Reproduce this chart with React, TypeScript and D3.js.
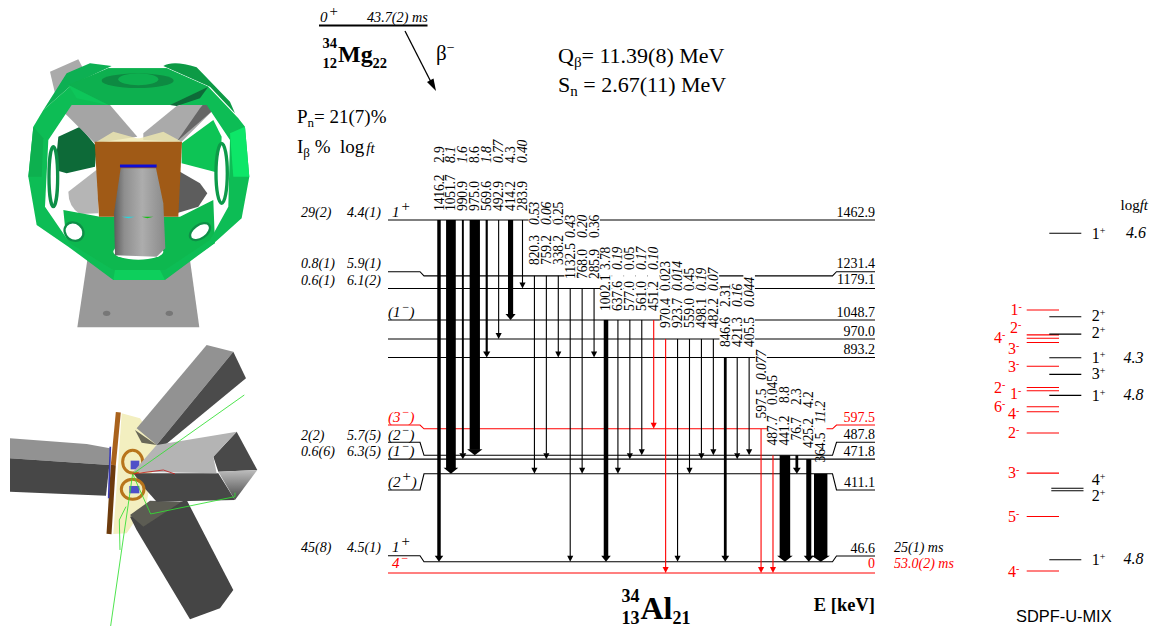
import React from "react";
import * as d3 from "d3";

// ---------- Data ----------
const levelEnergies = [1462.9, 1231.4, 1179.1, 1048.7, 970.0, 893.2, 597.5, 487.8, 471.8, 411.1, 46.6, 0];
const levelText = ["1462.9", "1231.4", "1179.1", "1048.7", "970.0", "893.2", "597.5", "487.8", "471.8", "411.1", "46.6", "0"];
const levelRed = [597.5, 0];

const gammaEnergy = ["1416.2","1051.7","990.9","975.0","569.6","492.9","414.2","283.9","820.3","759.2","338.2","1132.5","768.0","285.9","1002.1","637.6","577.0","561.0","451.2","970.4","923.7","559.0","498.1","482.2","846.6","421.3","405.5","597.5","487.7","441.2","76.7","425.2","364.5"];
const gammaIntensity = ["2.9","8.1","1.6","8.6","1.8","0.77","4.3","0.40","0.53","0.06","0.25","0.43","0.20","0.36","3.78","0.19","0.05","0.17","0.10","0.023","0.014","0.45","0.19","0.07","2.31","0.16","0.044","0.077","0.045","8.8","2.3","4.2","11.2"];
const intensityItalic = [0,1,1,0,1,1,0,1,1,1,0,1,1,0,0,1,0,1,1,0,1,0,1,1,0,1,1,1,0,0,0,0,1];
const gammaFrom = [1462.9,1462.9,1462.9,1462.9,1462.9,1462.9,1462.9,1462.9,1231.4,1231.4,1231.4,1179.1,1179.1,1179.1,1048.7,1048.7,1048.7,1048.7,1048.7,970.0,970.0,970.0,970.0,970.0,893.2,893.2,893.2,597.5,487.8,487.8,487.8,471.8,411.1];
const gammaTo = [46.6,411.1,471.8,487.8,893.2,970.0,1048.7,1179.1,411.1,471.8,893.2,46.6,411.1,893.2,46.6,411.1,471.8,487.8,597.5,0,46.6,411.1,471.8,487.8,46.6,471.8,487.8,0,0,46.6,411.1,46.6,46.6];
const gammaRed = ["451.2", "970.4", "597.5", "487.7"];

const betaRows = [
  { feed: "29(2)", logft: "4.4(1)", base: 217 },
  { feed: "0.8(1)", logft: "5.9(1)", base: 268 },
  { feed: "0.6(1)", logft: "6.1(2)", base: 285 },
  { feed: "2(2)", logft: "5.7(5)", base: 440 },
  { feed: "0.6(6)", logft: "6.3(5)", base: 455.5 },
  { feed: "45(8)", logft: "4.5(1)", base: 552 },
];

const shellBlackE = [1408, 1062, 990, 892, 823, 736, 351, 341, 55];
const shellBlackJ = ["1", "2", "2", "1", "3", "1", "4", "2", "1"];
const shellBlackLogft = ["4.6", "", "", "4.3", "", "4.8", "", "", "4.8"];
const shellRedE = [1090, 987, 973, 955, 857, 769, 755, 689, 668, 580, 414, 234, 8];
const shellRedJ = ["1", "2", "4", "3", "3", "2", "1", "6", "4", "2", "3", "5", "4"];

// ---------- Layout (pixels) ----------
const yE = d3.scaleLinear().domain([0, 1462.9]).range([573, 220]);
const xSlot = d3.scalePoint<number>().domain(d3.range(gammaEnergy.length)).range([439, 820.7]);
const wI = d3.scaleLinear().domain([0, 11.2]).range([0, 13.4]);
const labelStart = [211,211,211,211,211,211,211,211,265,265,265,279,279,279,311,311,311,311,311,328,328,328,328,328,347,347,347,418.5,445.5,445.5,440.5,448,462.5];
const intensityStart = [163,163,163,163,163,163,163,163,225,225,225,238,238,238,270,270,270,270,270,291,291,291,291,291,307,307,307,380,405,403,405,408,423];
const maskEnd = labelStart.map((v) => Math.min(v, 452));
const leftStub: Record<string, number> = { "1231.4": 271.7, "597.5": 425, "487.8": 442.3, "411.1": 490, "46.6": 555.7 };
const rightStub: Record<string, number> = { "1231.4": 271.7, "597.5": 425, "487.8": 442.3, "411.1": 490, "46.6": 556 };
const levelLabelBase: Record<string, number> = { "1462.9": 217, "1231.4": 268, "1179.1": 284, "1048.7": 317, "970": 336, "893.2": 354, "597.5": 422, "487.8": 439, "471.8": 455.7, "411.1": 487, "46.6": 552.7, "0": 568 };

const shellRedLabelX = [1010.5, 1010, 994, 1008, 1008, 994, 1010, 994, 1008, 1008, 1008, 1008, 1008];
const shellRedLabelBase = [315, 332.7, 343, 354, 371.7, 393, 399.3, 412, 419.3, 438, 478.3, 521.7, 576.7];
const shellBlackLabelBase = [239.3, 320.7, 338, 363.3, 379.3, 400.7, 485, 501, 565];
const shellLogftBase = [238, 0, 0, 362.7, 0, 400, 0, 0, 564];
const shellLogftX = [1126, 0, 0, 1123.5, 0, 1123.5, 0, 0, 1123.5];

const SERIF = "'Liberation Serif', serif";
const RED = "#f00";

const Lvl = ({ e }: { e: number }) => {
  const y = yE(e);
  const k = String(e);
  const c = levelRed.includes(e) ? RED : "#000";
  const pts: [number, number][] = [];
  if (leftStub[k] !== undefined) pts.push([388, leftStub[k]], [420, leftStub[k]], [424, y]);
  else pts.push([388, y]);
  if (rightStub[k] !== undefined) pts.push([832.5, y], [836.5, rightStub[k]], [875, rightStub[k]]);
  else pts.push([875, y]);
  return <path d={d3.line()(pts) as string} fill="none" stroke={c} strokeWidth={1.1} />;
};

const Gamma = ({ i }: { i: number }) => {
  const x = xSlot(i) as number;
  const w = Math.max(1.1, wI(parseFloat(gammaIntensity[i])));
  const y0 = yE(gammaFrom[i]);
  const y1 = yE(gammaTo[i]);
  const c = gammaRed.includes(gammaEnergy[i]) ? RED : "#000";
  const hw = w + 5;
  const hh = 6;
  return (
    <g fill={c} stroke="none">
      <rect x={x - w / 2} y={y0} width={w} height={y1 - y0 - hh + 0.5} />
      <path d={`M${x - hw / 2},${y1 - hh}L${x + hw / 2},${y1 - hh}L${x},${y1}Z`} />
    </g>
  );
};

const GammaMask = ({ i }: { i: number }) => {
  const x = xSlot(i) as number;
  const top = intensityStart[i] - gammaIntensity[i].length * 6.3 - 1;
  return <rect x={x - 5.8} y={top} width={11.6} height={maskEnd[i] - top} fill="#fff" />;
};

const GammaLabel = ({ i }: { i: number }) => {
  const x = xSlot(i) as number;
  return (
    <g fontFamily={SERIF} fontSize={13.6} letterSpacing={-0.15} fill="#000">
      <text transform={`translate(${x},${labelStart[i]}) rotate(-90)`} dy="0.33em">{gammaEnergy[i]}</text>
      <text transform={`translate(${x},${intensityStart[i]}) rotate(-90)`} dy="0.33em" fontStyle={intensityItalic[i] ? "italic" : "normal"}>{gammaIntensity[i]}</text>
    </g>
  );
};

const Spin = ({ x, y, j, sign, paren, fill = "#000" }: { x: number; y: number; j: string; sign: string; paren?: boolean; fill?: string }) => (
  <text x={x} y={y} fontFamily={SERIF} fontStyle="italic" fontSize={15} fill={fill}>
    {paren ? "(" : ""}{j}
    <tspan dy={-6} fontSize={sign === "+" ? 15 : 12} dx={1}>{sign === "-" ? "\u2212" : "+"}</tspan>
    <tspan dy={6}>{paren ? ")" : ""}</tspan>
  </text>
);

const Nuclide = ({ a, z, sym, n, x, sizes, ys }: { a: string; z: string; sym: string; n: string; x: number; sizes: number[]; ys: number[] }) => (
  <g fontFamily={SERIF} fontWeight="bold" fill="#000">
    <text x={x} y={ys[0]} fontSize={sizes[0]}>{a}</text>
    <text x={x} y={ys[1]} fontSize={sizes[0]}>{z}</text>
    <text x={x + sizes[0] + 1} y={ys[2]} fontSize={sizes[1]}>{sym}</text>
    <text x={x + sizes[0] + sizes[1] * sizes[2] + 1} y={ys[1]} fontSize={sizes[0]}>{n}</text>
  </g>
);

// ---------- Detector illustrations (pixel outlines of the two renderings) ----------
const P = ({ d, f, o, s, sw }: { d: string; f: string; o?: number; s?: string; sw?: number }) => (
  <path d={d} fill={f} fillOpacity={o} stroke={s ?? "none"} strokeWidth={sw} />
);

const TopRender = () => (
  <g transform="translate(0,30) scale(0.3333)" filter="url(#soft)">
    <P d="M262,690L570,690L598,892L232,892Z" f="#999" />
    <ellipse cx={320} cy={850} rx={11} ry={8} fill="#777" />
    <ellipse cx={508} cy={850} rx={11} ry={8} fill="#777" />
    <P d="M150,125L235,88L262,140L165,190Z" f="#aaa" />
    <P d="M490,108Q520,90 590,112L690,215L705,250L630,170Z" f="#0a9a45" />
    <P d="M130,240L200,130L270,100L335,108L215,165Z" f="#0ab052" />
    {/* interior */}
    <P d="M140,300L220,200L620,200L690,300L690,530L620,660L500,730L340,730L210,650L140,530Z" f="#fff" />
    <P d="M175,320L240,290L290,350L285,410L200,430L165,420Z" f="#0a6a38" />
    <P d="M545,340L640,270L665,320L660,430L545,400Z" f="#0cc454" />
    <P d="M225,200L330,225L412,320L285,340L190,245Z" f="#a5a5a5" />
    <P d="M430,310L530,228L625,205L640,240L545,335L430,330Z" f="#aaa" />
    <P d="M530,335L640,240L625,205L600,235Z" f="#666" />
    <P d="M205,485L292,418L295,550L240,552Q205,530 205,485Z" f="#b5b5b5" />
    <P d="M540,425L600,460L622,490L595,530L530,550Z" f="#5d5d5d" />
    <P d="M190,540L300,560L540,560L640,510L645,640L500,735L340,735L200,640Z" f="#0bb84f" />
    <ellipse cx={415} cy={665} rx={75} ry={24} fill="#fff" />
    <ellipse cx={222} cy={605} rx={30} ry={26} fill="#fff" stroke="#0a8f46" strokeWidth={7} transform="rotate(40 222 605)" />
    <ellipse cx={600} cy={605} rx={34} ry={20} fill="#fff" stroke="#0a8f46" strokeWidth={7} transform="rotate(-35 600 605)" />
    {/* main frame */}
    <path fillRule="evenodd" fill="#0bbd54" d="M85,440L100,290L130,240L215,165L325,115L500,115L625,170L715,265L735,290L748,440L725,565L630,650L495,750L340,750L205,650L110,585ZM145,330L135,530L210,640L340,720L495,720L630,630L685,530L690,330L620,225L215,225Z" />
    <P d="M205,165L325,115L500,115L625,170L510,225L325,225Z" f="#0cb04f" />
    <P d="M510,225L625,170L600,205L530,228Z" f="#0a6a38" />
    <P d="M205,165L325,225L230,205Z" f="#0cc65a" />
    <ellipse cx={413} cy={152} rx={108} ry={22} fill="#0a8a42" />
    <ellipse cx={415} cy={148} rx={60} ry={18} fill="#0bb04f" />
    <P d="M340,750L495,750L480,720L345,720Z" f="#0ccf5c" />
    <P d="M85,440L100,290L130,325L125,440Z" f="#0ab04f" />
    <P d="M748,440L735,290L690,310L700,440Z" f="#0ee668" />
    <ellipse cx={160} cy={440} rx={13} ry={90} fill="#fff" stroke="#0a8f46" strokeWidth={10} />
    <ellipse cx={665} cy={430} rx={17} ry={90} fill="#fff" stroke="#0a9a4a" strokeWidth={10} />
    {/* plate and central tube */}
    <P d="M290,335L340,305L410,325L420,325L490,305L540,332L540,340L290,340Z" f="#efe8b0" o={0.8} />
    <P d="M284,335L546,335L535,560L297,560Z" f="#a05a14" />
    <P d="M360,408L470,408" f="none" s="#1010d8" sw={9} />
    <path d="M362,415L468,415L490,520L496,655L470,680L345,676L342,550Z" fill="url(#ct)" />
    <P d="M365,560L405,560L385,565Z" f="#22d8e0" />
    <P d="M425,560L460,560L442,565Z" f="#10c010" />
  </g>
);

const BottomRender = () => (
  <g transform="translate(0,330) scale(0.3333)" filter="url(#soft)">
    <P d="M30,325L260,342L330,355L328,405L30,385Z" f="#929292" />
    <P d="M30,385L328,405L318,497L30,485Z" f="#474747" />
    <P d="M365,250L420,265L470,340L440,520L380,610L340,612Z" f="#f3efc0" />
    <P d="M410,295L620,45L700,65L470,345Z" f="#929292" />
    <P d="M700,65L738,145L495,345L470,345Z" f="#4b4b4b" />
    <P d="M405,300L470,345L425,338Z" f="#6a6858" />
    <P d="M390,560L560,510L700,780L660,835L570,868L410,600Z" f="#444" />
    <P d="M390,555L450,512L545,515L430,590Z" f="#5b5b52" />
    <P d="M400,430L655,430L705,510L470,515L430,470Z" f="#474747" />
    <P d="M640,380L710,305L772,420L655,425Z" f="#484848" />
    <path d="M655,425L772,420L705,510Z" fill="url(#et)" />
    <line x1={355} y1={247} x2={340} y2={405} stroke="#a9621c" strokeWidth={15} />
    <line x1={340} y1={405} x2={327} y2={612} stroke="#6d3b0a" strokeWidth={15} />
    <line x1={331} y1={350} x2={326} y2={505} stroke="#3a3ab0" strokeWidth={5} />
    <ellipse cx={398} cy={395} rx={30} ry={34} fill="none" stroke="#b8741a" strokeWidth={9} />
    <ellipse cx={398} cy={478} rx={34} ry={30} fill="none" stroke="#b8741a" strokeWidth={9} />
    <rect x={392} y={392} width={26} height={26} fill="#5050c8" />
    <rect x={388} y={468} width={30} height={22} fill="#5050c8" />
    <P d="M400,425L470,345L710,305L640,380L650,430Z" f="#b4b4b4" />
    <g fill="none" stroke="#33e033" strokeWidth={2.6}>
      <path d="M398,432L733,195" />
      <path d="M398,432L332,888" />
      <path d="M398,432L452,552L705,500L705,488" />
      <path d="M378,530L358,570L360,660" />
    </g>
    <path d="M398,432L490,420L525,432" fill="none" stroke="#c02020" strokeWidth={2.6} />
  </g>
);

export default function App() {
  return (
    <svg width={1154} height={628} viewBox="0 0 1154 628" style={{ position: "absolute", left: 0, top: 0, display: "block" }}>
      <defs>
        <filter id="soft" x="-5%" y="-5%" width="110%" height="110%">
          <feGaussianBlur stdDeviation="1.2" />
        </filter>
        <linearGradient id="ct" x1="0" x2="1" y1="0" y2="0">
          <stop offset="0" stopColor="#5c5c5c" />
          <stop offset="0.2" stopColor="#8e8e8e" />
          <stop offset="0.55" stopColor="#adadad" />
          <stop offset="1" stopColor="#8a8a8a" />
        </linearGradient>
        <linearGradient id="et" x1="0" x2="0" y1="0" y2="1">
          <stop offset="0" stopColor="#bdbdbd" />
          <stop offset="1" stopColor="#4a4a4a" />
        </linearGradient>
      </defs>
      <rect width={1154} height={628} fill="#fff" />
      <TopRender />
      <BottomRender />

      {/* header */}
      <g fontFamily={SERIF} fill="#000">
        <text x={320} y={22} fontStyle="italic" fontSize={15}>0<tspan dy={-6} fontSize={15} dx={1}>+</tspan></text>
        <text x={367} y={21.5} fontStyle="italic" fontSize={14.2}>43.7(2) ms</text>
        <line x1={319} x2={427.5} y1={25.5} y2={25.5} stroke="#000" strokeWidth={2} />
        <line x1={405} y1={31} x2={432} y2={84} stroke="#000" strokeWidth={1.3} />
        <path d="M436,91L427,82L433.5,78.5Z" fill="#000" />
        <text x={436} y={60} fontSize={21}>{"\u03B2"}<tspan dy={-8} fontSize={14}>{"\u2212"}</tspan></text>
        <text x={558} y={63} fontSize={22}>Q<tspan dy={4} fontSize={15}>{"\u03B2"}</tspan><tspan dy={-4}>= 11.39(8) MeV</tspan></text>
        <text x={558} y={92} fontSize={22}>S<tspan dy={4} fontSize={15}>n</tspan><tspan dy={-4}> = 2.67(11) MeV</tspan></text>
        <text x={297} y={123} fontSize={19}>P<tspan dy={4} fontSize={13}>n</tspan><tspan dy={-4}>= 21(7)%</tspan></text>
        <text x={297} y={153} fontSize={19}>I<tspan dy={4} fontSize={13}>{"\u03B2"}</tspan><tspan dy={-4}> %</tspan></text>
        <text x={340} y={153} fontSize={19}>log<tspan fontStyle="italic" fontSize={15} dx={2}>ft</tspan></text>
      </g>
      <Nuclide a="34" z="12" sym="Mg" n="22" x={322.5} sizes={[14.5, 24, 1.44]} ys={[48, 67.5, 61.5]} />
      <Nuclide a="34" z="13" sym="Al" n="21" x={621.5} sizes={[18, 32, 1.0]} ys={[601.5, 623.5, 618.5]} />
      <text x={875} y={610.5} textAnchor="end" fontFamily={SERIF} fontWeight="bold" fontSize={18.5}>E [keV]</text>

      {/* level scheme */}
      {levelEnergies.map((e) => <Lvl key={e} e={e} />)}
      {gammaEnergy.map((_, i) => <Gamma key={i} i={i} />)}
      {gammaEnergy.map((_, i) => <GammaMask key={i} i={i} />)}
      {gammaEnergy.map((_, i) => <GammaLabel key={i} i={i} />)}

      <g fontFamily={SERIF} fontSize={14}>
        {levelEnergies.map((e, i) => (
          <text key={e} x={875} y={levelLabelBase[String(e)]} textAnchor="end" fill={levelRed.includes(e) ? RED : "#000"}>{levelText[i]}</text>
        ))}
      </g>
      <g fontFamily={SERIF} fontSize={14} fontStyle="italic">
        {betaRows.map((r) => (
          <g key={r.logft}>
            <text x={301} y={r.base}>{r.feed}</text>
            <text x={347} y={r.base}>{r.logft}</text>
          </g>
        ))}
        <text x={894} y={552}>25(1) ms</text>
        <text x={894} y={568} fill={RED}>53.0(2) ms</text>
      </g>
      <Spin x={392} y={217} j="1" sign="+" />
      <Spin x={388} y={317} j="1" sign="-" paren />
      <Spin x={388} y={422} j="3" sign="-" paren fill={RED} />
      <Spin x={388} y={440} j="2" sign="-" paren />
      <Spin x={388} y={455.5} j="1" sign="-" paren />
      <Spin x={388} y={487} j="2" sign="+" paren />
      <Spin x={392} y={552} j="1" sign="+" />
      <Spin x={392} y={568} j="4" sign="-" fill={RED} />

      {/* shell model column */}
      {shellRedE.map((e, i) => (
        <g key={i}>
          <line x1={1026.7} x2={1059} y1={yE(e)} y2={yE(e)} stroke={RED} strokeWidth={1.1} />
          <text x={shellRedLabelX[i]} y={shellRedLabelBase[i]} fontFamily={SERIF} fontSize={16} fill={RED}>{shellRedJ[i]}<tspan dy={-5} fontSize={10}>-</tspan></text>
        </g>
      ))}
      {shellBlackE.map((e, i) => (
        <g key={i}>
          <line x1={e === 351 || e === 341 ? 1051.3 : 1049.3} x2={e === 351 || e === 341 ? 1083.5 : 1081.3} y1={yE(e)} y2={yE(e)} stroke="#000" strokeWidth={1.1} />
          <text x={1091.7} y={shellBlackLabelBase[i]} fontFamily={SERIF} fontSize={16} fill="#000">{shellBlackJ[i]}<tspan dy={-5} fontSize={10}>+</tspan></text>
          {shellBlackLogft[i] && <text x={shellLogftX[i]} y={shellLogftBase[i]} fontFamily={SERIF} fontStyle="italic" fontSize={16}>{shellBlackLogft[i]}</text>}
        </g>
      ))}
      <text x={1120.5} y={210} fontFamily={SERIF} fontSize={15}>log<tspan fontStyle="italic">ft</tspan></text>
      <text x={1016} y={621.5} fontFamily="'Liberation Sans', sans-serif" fontSize={16.4}>SDPF-U-MIX</text>
    </svg>
  );
}
